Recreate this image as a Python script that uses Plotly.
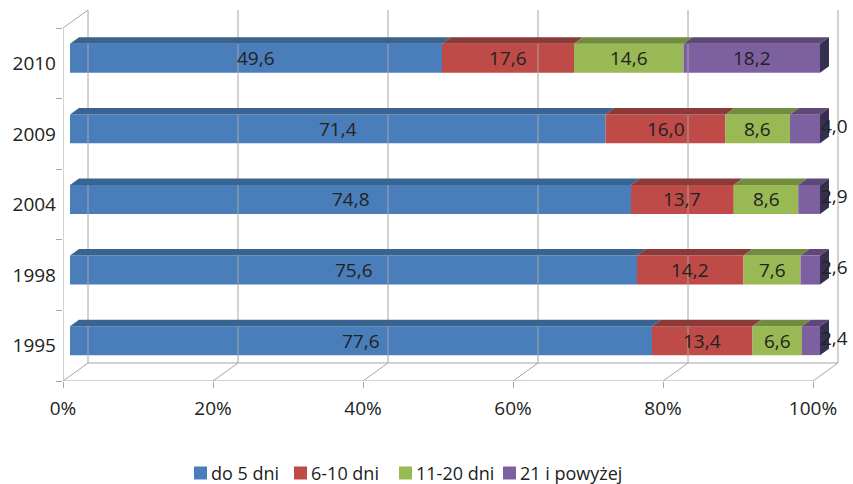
import plotly.graph_objects as go

years = ["1995", "1998", "2004", "2009", "2010"]
series_names = ["do 5 dni", "6-10 dni", "11-20 dni", "21 i powyżej"]
do5 = [77.6, 75.6, 74.8, 71.4, 49.6]
d6_10 = [13.4, 14.2, 13.7, 16.0, 17.6]
d11_20 = [6.6, 7.6, 8.6, 8.6, 14.6]
d21 = [2.4, 2.6, 2.9, 4.0, 18.2]
x_ticks = [0, 20, 40, 60, 80, 100]
x_tick_labels = ["0%", "20%", "40%", "60%", "80%", "100%"]

series_values = [do5, d6_10, d11_20, d21]
front_colors = ["#4a7ebb", "#be4b48", "#98b954", "#7d60a0"]
top_colors = ["#39648f", "#8c3a38", "#718b3f", "#5d4878"]
side_color = "#35304f"
grid_color = "#a6a6a6"
text_color = "#222222"
FONT = "Open Sans"

W, H = 853, 484
ML, MR, MT, MB = 63, 13, 8, 103
PW, PH = W - ML - MR, H - MT - MB

# pseudo-3D geometry (axis units)
DX, DY = 3.333, 0.255           # full depth offset
F0, F1 = 0.28, 0.64             # bar depth: front / back fraction
BAR_H = 0.41
ox, oy = F0 * DX, F0 * DY
tdx, tdy = (F1 - F0) * DX, (F1 - F0) * DY
n = len(years)

fig = go.Figure()

# walls / floor grid
gx, gy = [], []
for v in x_ticks:
    gx += [v + DX, v + DX, None, v, v + DX, None]
    gy += [DY, n + DY, None, 0, DY, None]
gx += [DX, 100 + DX, None, 0, DX, None]
gy += [DY, DY, None, n, n + DY, None]
fig.add_trace(go.Scatter(x=gx, y=gy, mode="lines", line=dict(color=grid_color, width=1),
                         hoverinfo="skip", showlegend=False))
# front axis lines
fig.add_trace(go.Scatter(x=[0, 0, None, 0, 100], y=[n, 0, None, 0, 0], mode="lines",
                         line=dict(color=grid_color, width=1), hoverinfo="skip", showlegend=False))

yc = [i + 0.5 + oy for i in range(n)]
cum = [0.0] * n
annotations = []
for s, (name, vals) in enumerate(zip(series_names, series_values)):
    bases = [ox + c for c in cum]
    fig.add_trace(go.Bar(y=yc, x=vals, base=bases, orientation="h", width=BAR_H,
                         marker=dict(color=front_colors[s], line=dict(width=0)),
                         name=name, hoverinfo="skip", showlegend=False))
    px, py = [], []
    for i in range(n):
        x0, x1 = bases[i], bases[i] + vals[i]
        yt = yc[i] + BAR_H / 2
        px += [x0, x1, x1 + tdx, x0 + tdx, x0, None]
        py += [yt, yt, yt + tdy, yt + tdy, yt, None]
        label = f"{vals[i]:.1f}".replace(".", ",")
        if vals[i] < 5:
            annotations.append(dict(x=x1 - 0.2, y=yc[i], text=label, xanchor="left",
                                    yanchor="middle", showarrow=False, yshift=3,
                                    font=dict(size=19, color=text_color, family=FONT)))
        else:
            annotations.append(dict(x=x0 + vals[i] / 2, y=yc[i], text=label, xanchor="center",
                                    yanchor="middle", showarrow=False,
                                    font=dict(size=19, color=text_color, family=FONT)))
    fig.add_trace(go.Scatter(x=px, y=py, mode="lines", fill="toself", fillcolor=top_colors[s],
                             line=dict(width=0, color=top_colors[s]), hoverinfo="skip",
                             showlegend=False))
    cum = [c + v for c, v in zip(cum, vals)]

# right side face of the last segment
sx, sy = [], []
for i in range(n):
    xe = ox + cum[i]
    yb, yt = yc[i] - BAR_H / 2, yc[i] + BAR_H / 2
    sx += [xe, xe, xe + tdx, xe + tdx, xe, None]
    sy += [yb, yt, yt + tdy, yb + tdy, yb, None]
fig.add_trace(go.Scatter(x=sx, y=sy, mode="lines", fill="toself", fillcolor=side_color,
                         line=dict(width=0, color=side_color), hoverinfo="skip", showlegend=False))

# legend (drawn in paper coordinates, positions in pixels of the page)
legend_px = [194, 294, 399, 503]
legend_cy = 473
SQ = 13
def pxx(p):
    return (p - ML) / PW
def pxy(p):
    return (H - MB - p) / PH
shapes = []
for s, name in enumerate(series_names):
    x0 = legend_px[s]
    shapes.append(dict(type="rect", xref="paper", yref="paper",
                       x0=pxx(x0), x1=pxx(x0 + SQ), y0=pxy(legend_cy + SQ / 2),
                       y1=pxy(legend_cy - SQ / 2), fillcolor=front_colors[s],
                       line=dict(width=0), layer="above"))
    annotations.append(dict(xref="paper", yref="paper", x=pxx(x0 + SQ + 2), y=pxy(legend_cy),
                            text=name, xanchor="left", yanchor="middle", showarrow=False,
                            font=dict(size=18, color=text_color, family=FONT)))

fig.update_layout(
    width=W, height=H,
    margin=dict(l=ML, r=MR, t=MT, b=MB),
    paper_bgcolor="white", plot_bgcolor="white",
    barmode="overlay",
    font=dict(family=FONT, size=19, color=text_color),
    annotations=annotations,
    shapes=shapes,
    showlegend=False,
    xaxis=dict(range=[0, 103.6], tickvals=x_ticks, ticktext=x_tick_labels, ticks="outside",
               ticklen=6, tickcolor=grid_color, showgrid=False, zeroline=False, showline=False,
               ticklabelstandoff=4, fixedrange=True, tickfont=dict(size=19)),
    yaxis=dict(range=[0, 5.2833], tickvals=[i + 0.5 for i in range(n)], ticktext=years,
               ticks="", showgrid=False, zeroline=False, showline=False, ticklabelstandoff=6,
               minor=dict(tickvals=list(range(n + 1)), ticks="outside", ticklen=6,
                          tickcolor=grid_color), fixedrange=True, tickfont=dict(size=19)),
)

fig.write_html("out.html", config={"displayModeBar": False, "staticPlot": True},
               post_script="document.body.style.margin='0';document.body.style.overflow='hidden';")
